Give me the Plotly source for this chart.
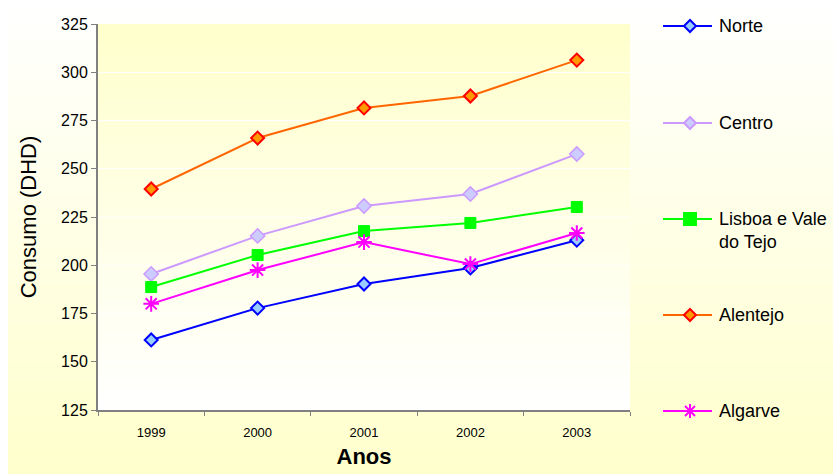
import plotly.graph_objects as go

# Consumption by region (DHD), 1999-2003
anos = ["1999", "2000", "2001", "2002", "2003"]
norte = [161.3, 177.8, 190.3, 198.6, 213.0]
centro = [195.5, 215.2, 230.7, 236.9, 257.6]
lisboa = [188.7, 205.3, 217.7, 221.9, 230.2]
alentejo = [239.5, 265.9, 281.5, 287.7, 306.3]
algarve = [180.0, 197.5, 212.0, 200.6, 216.7]

W, H = 833, 474
ML, MR, MT, MB = 98, 203, 24, 64
PW, PH = W - ML - MR, H - MT - MB


def px_x(px):
    return (px - ML) / PW


def px_y(py):
    return (H - MB - py) / PH


def mix(c1, c2, t):
    return "rgb(%d,%d,%d)" % tuple(round(a + (b - a) * t) for a, b in zip(c1, c2))


WHITE = (255, 255, 255)
YELLOW = (255, 255, 204)
FONT = "Liberation Sans, Arial, sans-serif"

shapes = []
# chart-area gradient: white at top fading to pale yellow at bottom
n = 60
for i in range(n):
    y0 = i * H / n
    y1 = (i + 1) * H / n + 0.6
    shapes.append(dict(type="rect", xref="paper", yref="paper",
                       x0=px_x(8), x1=px_x(W + 2), y0=px_y(y1), y1=px_y(y0),
                       fillcolor=mix(WHITE, YELLOW, (i + 0.5) / n),
                       line_width=0, layer="below"))
# plot-area gradient: pale yellow at top fading to white at bottom
for i in range(n):
    y0 = MT + i * PH / n
    y1 = MT + (i + 1) * PH / n + 0.6
    shapes.append(dict(type="rect", xref="paper", yref="paper",
                       x0=0, x1=1, y0=px_y(min(y1, H - MB)), y1=px_y(y0),
                       fillcolor=mix(YELLOW, WHITE, (i + 0.5) / n),
                       line_width=0, layer="below"))

series = [
    dict(name="Norte", y=norte, line="#0000FF",
         marker=dict(symbol="diamond", size=10, color="#99CCFF",
                     line=dict(color="#0000FF", width=2))),
    dict(name="Centro", y=centro, line="#CC99FF",
         marker=dict(symbol="diamond", size=11, color="#CCCCFF",
                     line=dict(color="#CC99FF", width=1.5))),
    dict(name="Lisboa e Vale<br>do Tejo", y=lisboa, line="#00FF00",
         marker=dict(symbol="square", size=11, color="#00FF00",
                     line=dict(color="#00FF00", width=1))),
    dict(name="Alentejo", y=alentejo, line="#FF6600",
         marker=dict(symbol="diamond", size=10, color="#FF9900",
                     line=dict(color="#FF0000", width=2))),
    dict(name="Algarve", y=algarve, line="#FF00FF",
         marker=dict(symbol="asterisk-open", size=13, color="#FF00FF",
                     line=dict(color="#FF00FF", width=2))),
]

fig = go.Figure()
for s in series:
    fig.add_trace(go.Scatter(x=anos, y=s["y"], mode="lines+markers",
                             name=s["name"], line=dict(color=s["line"], width=2),
                             marker=s["marker"], showlegend=False))

# legend drawn by hand so entries sit at even spacing
legend_y = [26, 123, 219, 315, 411]
paths = {
    "diamond": "M -6 0 L 0 6 L 6 0 L 0 -6 Z",
    "square": "M -6 -6 L 6 -6 L 6 6 L -6 6 Z",
    "asterisk-open": "M -7 0 L 7 0 M 0 -7 L 0 7 M -5 -5 L 5 5 M -5 5 L 5 -5",
}
annotations = []
for s, py in zip(series, legend_y):
    shapes.append(dict(type="line", xref="paper", yref="paper",
                       x0=px_x(663), x1=px_x(712), y0=px_y(py), y1=px_y(py),
                       line=dict(color=s["line"], width=2)))
    m = s["marker"]
    sym = m["symbol"]
    fill = m["color"] if sym != "asterisk-open" else "rgba(0,0,0,0)"
    shapes.append(dict(type="path", xref="paper", yref="paper",
                       xsizemode="pixel", ysizemode="pixel",
                       xanchor=px_x(690), yanchor=px_y(py),
                       path=paths[sym], fillcolor=fill,
                       line=dict(color=m["line"]["color"], width=2)))
    annotations.append(dict(xref="paper", yref="paper", x=px_x(717),
                            y=px_y(py - 12), xanchor="left", yanchor="top",
                            align="left", showarrow=False, text=s["name"],
                            font=dict(family=FONT, size=18, color="#000000")))

fig.update_layout(
    width=W, height=H,
    margin=dict(l=ML, r=MR, t=MT, b=MB),
    paper_bgcolor="#FFFFFF",
    plot_bgcolor="rgba(0,0,0,0)",
    shapes=shapes,
    annotations=annotations,
    font=dict(family=FONT, color="#000000"),
    xaxis=dict(type="category", range=[-0.5, 4.5], tickson="boundaries",
               ticks="outside", ticklen=4, tickcolor="#808080",
               ticklabelstandoff=9, automargin=False,
               showline=True, linecolor="#808080", linewidth=2,
               showgrid=False, tickfont=dict(size=13),
               title=dict(text="<b>Anos</b>", font=dict(size=22), standoff=10)),
    yaxis=dict(range=[125, 325], dtick=25, ticks="outside", ticklen=5,
               tickcolor="#808080", showline=True, linecolor="#808080",
               linewidth=2, showgrid=True, gridcolor="#FFFFFF", gridwidth=1,
               zeroline=False, tickfont=dict(size=16), automargin=False,
               title=dict(text="Consumo (DHD)", font=dict(size=22), standoff=18)),
)

fig.write_html("out.html")
